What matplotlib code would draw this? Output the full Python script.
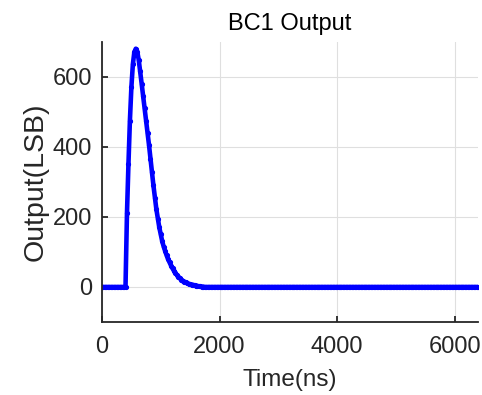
import numpy as np
import matplotlib
matplotlib.use('Agg')
import matplotlib.pyplot as plt

plt.rcParams['font.family'] = ['Liberation Sans', 'DejaVu Sans']

# BC1 shaper output, sampled every 25 ns
t_pre = np.arange(0, 400, 25)
y_pre = np.zeros(len(t_pre))

t_pulse = np.arange(400, 1775, 25)
y_pulse = np.array([
    0, 210, 350, 475, 570, 635, 670, 680, 672, 648,
    615, 580, 545, 510, 475, 440, 405, 365, 328, 290,
    255, 222, 195, 170, 150, 130, 115, 102, 90, 79,
    70, 61, 53, 46, 40, 34, 29, 25, 21, 18,
    15, 13, 11, 9, 8, 7, 6, 5, 4, 3,
    2, 2, 1, 1, 0,
])

t_post = np.arange(1775, 6425, 25)
y_post = np.zeros(len(t_post))

time_ns = np.concatenate([t_pre, t_pulse, t_post])
output_lsb = np.concatenate([y_pre, y_pulse, y_post])

fig = plt.figure(figsize=(4.82, 3.95), dpi=100)
ax = fig.add_axes([0.2116, 0.1848, 0.7804, 0.7096])

ax.plot(time_ns, output_lsb, color='#0000FF', linewidth=3.3,
        marker='.', markersize=5.5)

ax.set_xlim(0, 6400)
ax.set_ylim(-100, 700)
ax.set_xticks([0, 2000, 4000, 6000])
ax.set_yticks([0, 200, 400, 600])

ax.grid(True, color='#DFDFDF', linewidth=0.8)
ax.set_axisbelow(True)
for side in ['top', 'right']:
    ax.spines[side].set_visible(False)
for side in ['left', 'bottom']:
    ax.spines[side].set_color('#262626')
    ax.spines[side].set_linewidth(1.3)

ax.tick_params(direction='in', length=4, width=1.3, color='#262626',
               labelsize=17, labelcolor='#262626')
ax.tick_params(axis='x', pad=10)
ax.tick_params(axis='y', pad=7)

ax.set_xlabel('Time(ns)', fontsize=17.5, color='#262626', labelpad=8)
ax.set_ylabel('Output(LSB)', fontsize=20.5, color='#262626', labelpad=3)
ax.set_title('BC1 Output', fontsize=17, color='#000000', pad=8.5)

fig.savefig('out.png', dpi=100, facecolor='white')
